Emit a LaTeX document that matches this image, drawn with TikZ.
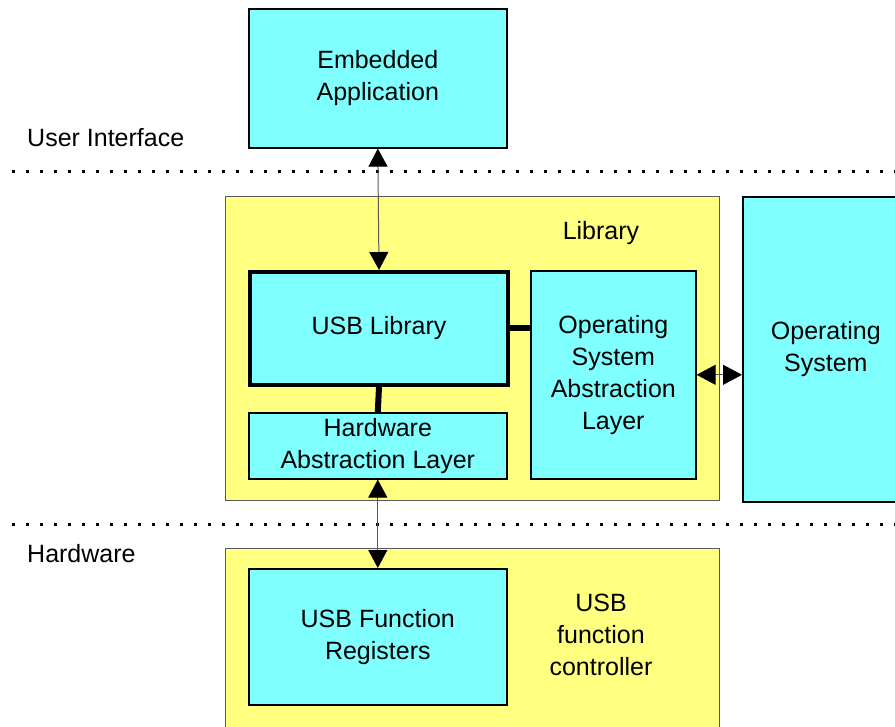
\documentclass[tikz,border=0pt]{standalone}
\usepackage{fontspec}
\setmainfont{Liberation Sans}
\usetikzlibrary{arrows.meta,positioning}
\definecolor{boxcyan}{HTML}{80FFFF}
\definecolor{boxyellow}{HTML}{FFFF80}
\tikzstyle{layer} = [draw=black!65, line width=1.2pt, fill=boxyellow, anchor=north west, inner sep=0pt]
\tikzstyle{block} = [draw=black, line width=1.6pt, fill=boxcyan, anchor=north west, align=center, inner sep=0pt]
\tikzstyle{arrow} = [draw, color=black!65, line width=1pt, {Triangle[width=19pt,length=18pt,color=black]}-{Triangle[width=19pt,length=18pt,color=black]}]
\tikzstyle{bar} = [draw, line width=6pt, -]
\tikzstyle{sep} = [draw, line width=3pt, dash pattern=on 3pt off 11pt]
\tikzstyle{label} = [inner sep=0pt, align=center]

\begin{document}
\begin{tikzpicture}[x=1pt, y=-1pt, font=\fontsize{25}{32}\selectfont]

  \clip (0,0) rectangle (895,727);

  % layers
  \node[layer, minimum width=494pt, minimum height=304pt] (lib) at (225,196) {};
  \node[layer, minimum width=494pt, minimum height=200pt] (ctrl) at (225,548) {};

  % blocks
  \node[block, minimum width=258pt, minimum height=139pt] (app) at (248,8) {Embedded\\Application};
  \node[block, line width=4pt, minimum width=258pt, minimum height=113pt] (usblib) at (248,270) {USB Library};
  \node[block, minimum width=165pt, minimum height=208pt] (osal) at (530,270) {Operating\\System\\Abstraction\\Layer};
  \node[block, minimum width=258pt, minimum height=66pt] (hal) at (248,412) {Hardware\\Abstraction Layer};
  \node[block, minimum width=166pt, minimum height=305pt] (os) at (742,196) {Operating\\System};
  \node[block, minimum width=258pt, minimum height=136pt] (regs) at (248,568) {USB Function\\Registers};

  \node[label] (liblabel) at (601,233) {Library};
  \node[label] (ctrllabel) at (601,635) {USB\\function\\controller};
  \node[label, anchor=west] (ui) at (27,138) {User Interface};
  \node[label, anchor=west] (hw) at (27,554) {Hardware};

  % separators
  \draw[sep] (12,172) -- (895,172);
  \draw[sep] (12,524) -- (895,524);

  % connections
  \draw[bar] (usblib.east) -- (osal.west |- usblib.east);
  \draw[bar] (usblib.south) -- (hal.north);
  \draw[arrow] (app.south) -- (usblib.north);
  \draw[arrow] (hal.south) -- (regs.north);
  \draw[arrow, {Triangle[width=20pt,length=19pt,color=black]}-{Triangle[width=20pt,length=19pt,color=black]}] (osal.east) -- (osal.east -| os.west);

\end{tikzpicture}
\end{document}
